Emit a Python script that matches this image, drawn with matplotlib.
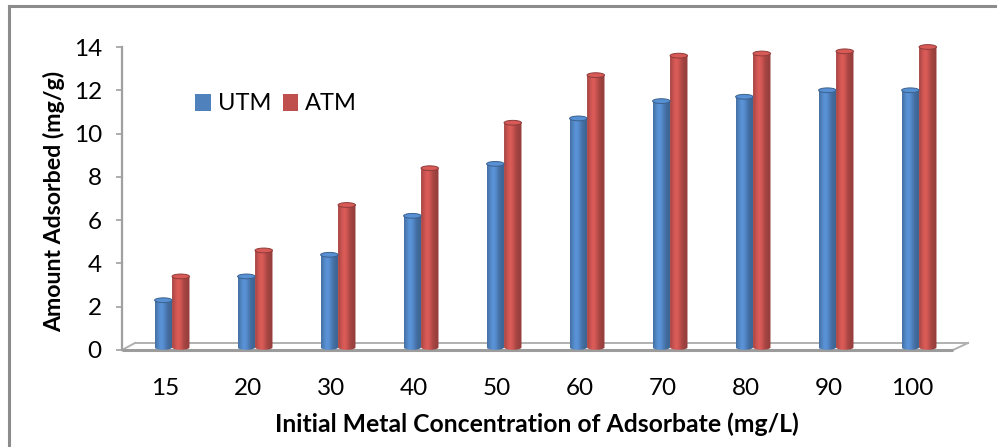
import matplotlib
matplotlib.use("Agg")
import matplotlib.pyplot as plt
import numpy as np
from matplotlib.patches import Ellipse, PathPatch, Patch
from matplotlib.path import Path
from matplotlib.lines import Line2D

plt.rcParams['font.family'] = ['Lato', 'DejaVu Sans']

# initial metal concentration (mg/L) and amount adsorbed (mg/g)
concentrations = ["15", "20", "30", "40", "50", "60", "70", "80", "90", "100"]
utm = [2.3, 3.4, 4.4, 6.2, 8.6, 10.7, 11.5, 11.7, 12.0, 12.0]
atm = [3.4, 4.6, 6.7, 8.4, 10.5, 12.7, 13.6, 13.7, 13.8, 14.0]
series_names = ["UTM", "ATM"]

blue = np.array([79, 129, 189]) / 255
red = np.array([192, 80, 77]) / 255

W, H = 997, 447
fig = plt.figure(figsize=(W / 100, H / 100), dpi=100)
ax = fig.add_axes([0, 0, 1, 1])

# pixel -> data helpers for the layout
PX_X0, PX_STEP = 165, 83
PX_Y0, PX_UNIT = 350, (350 - 47) / 14


def px_x(p):
    return (p - PX_X0) / PX_STEP


def px_y(q):
    return (PX_Y0 - q) / PX_UNIT


bar_w = 0.21
base = 0.12
ry = 0.11


def shade(color):
    t = np.linspace(0, 1, 60)
    f = 0.78 + 0.36 * np.exp(-((t - 0.35) / 0.3) ** 2)
    rgb = np.clip(color[None, :] * f[:, None], 0, 1)
    return rgb[None, :, :]


def cylinder(xc, v, color):
    x0, x1 = xc - bar_w / 2, xc + bar_w / 2
    t = np.linspace(np.pi, 2 * np.pi, 40)
    bottom = np.column_stack([xc + bar_w / 2 * np.cos(t), base + ry * np.sin(t)])
    verts = np.vstack([[[x0, v]], bottom, [[x1, v]], [[x0, v]]])
    body = PathPatch(Path(verts), fc='none', ec='none', transform=ax.transData)
    ax.add_patch(body)
    im = ax.imshow(shade(color), extent=[x0, x1, base - ry, v], aspect='auto',
                   interpolation='bilinear', zorder=2)
    im.set_clip_path(body)
    top = Ellipse((xc, v), bar_w, 2 * ry, fc=np.clip(color * 1.12, 0, 1),
                  ec=color * 0.75, lw=0.7, zorder=3)
    ax.add_patch(top)


for i in range(len(concentrations)):
    cylinder(i - 0.02, utm[i], blue)
    cylinder(i + 0.19, atm[i], red)

# floor of the 3D plot area
floor_col = '#9c9c9c'
fl, fr = px_x(122), px_x(953)
bl, br = px_x(135), px_x(968)
depth = px_y(343)
ax.plot([fl, fr], [0, 0], color=floor_col, lw=2.2, zorder=1.5, solid_capstyle='butt')
ax.plot([bl, br], [depth, depth], color='#b0b0b0', lw=1.4, zorder=1)
ax.plot([fl, bl], [0, depth], color='#b0b0b0', lw=1.4, zorder=1)
ax.plot([fr, br], [0, depth], color='#b0b0b0', lw=1.4, zorder=1)

ax.set_xlim(px_x(0), px_x(W))
ax.set_ylim(px_y(H), px_y(0))
ax.set_autoscale_on(False)

for s in ['top', 'right', 'bottom']:
    ax.spines[s].set_visible(False)
ax.spines['bottom'].set_position(('data', 0))
ax.spines['left'].set_position(('data', fl))
ax.spines['left'].set_bounds(0, 14)
ax.spines['left'].set_color('#a0a0a0')
ax.spines['left'].set_linewidth(1.6)

ax.set_yticks(range(0, 15, 2))
ax.tick_params(axis='y', direction='out', length=4.5, width=1.2, color='#a0a0a0',
               labelsize=17.5, pad=10)
ax.set_xticks(range(len(concentrations)), concentrations)
ax.tick_params(axis='x', length=0, labelsize=17.5, pad=20)

ax.set_xlabel("Initial Metal Concentration of Adsorbate (mg/L)", fontsize=17.8,
              fontweight='bold')
ax.xaxis.set_label_coords(537 / W, 1 - 412 / H)
ax.set_ylabel("Amount Adsorbed (mg/g)", fontsize=16.7, fontweight='bold')
ax.yaxis.set_label_coords(65 / W, 1 - 201 / H)

handles = [Patch(fc=blue, ec='none'), Patch(fc=red, ec='none')]
ax.legend(handles, series_names, loc='upper left', ncol=2, frameon=False,
          bbox_to_anchor=(186 / W, 1 - 84 / H), bbox_transform=fig.transFigure,
          fontsize=17, handlelength=0.64, handleheight=0.75, handletextpad=0.3,
          columnspacing=0.5, borderaxespad=0)

# outer chart border
fig.add_artist(Line2D([9 / W, 1], [1 - 5.5 / H, 1 - 5.5 / H], color='#8c8c8c', lw=2.2,
                      transform=fig.transFigure))
fig.add_artist(Line2D([9 / W, 9 / W], [0, 1 - 5.5 / H], color='#8c8c8c', lw=2.2,
                      transform=fig.transFigure))

fig.savefig("out.png", dpi=100)
